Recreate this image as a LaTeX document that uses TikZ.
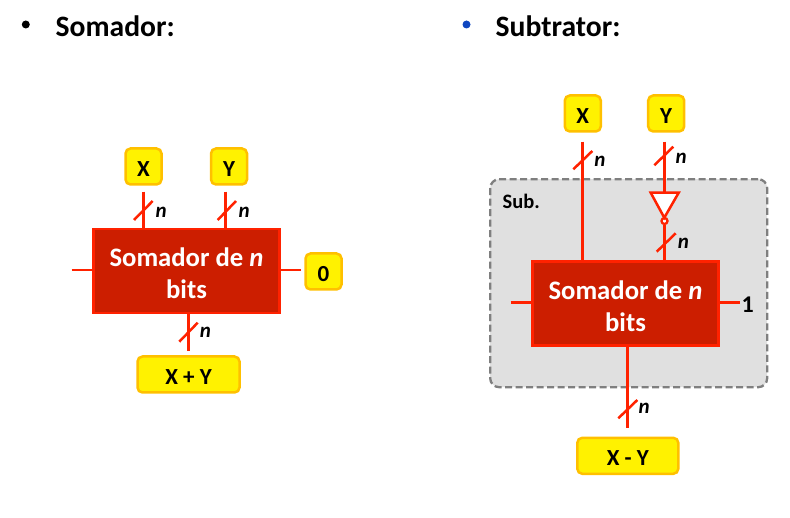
\documentclass[tikz,border=0pt]{standalone}
\usepackage{fontspec}
\setmainfont{Carlito}
\definecolor{wire}{HTML}{FF2200}
\definecolor{addfill}{HTML}{CC1E00}
\definecolor{ybord}{HTML}{FFC000}
\definecolor{subfill}{HTML}{E0E0E0}
\definecolor{subdash}{HTML}{7F7F7F}
\definecolor{bluebullet}{HTML}{0F46C0}
\newcommand{\topstrut}{\rule{0pt}{24pt}}
\tikzset{
  wirel/.style={draw=wire,line width=2.5pt},
  slashl/.style={draw=wire,line width=2.5pt},
  ybox/.style={draw=ybord,fill=yellow,line width=2.5pt,rounded corners=5pt,inner sep=0pt,
     text height=20pt,text depth=0pt,
     font=\fontsize{23}{26}\selectfont\bfseries,text=black},
  adder/.style={draw=wire,fill=addfill,line width=2.5pt,inner sep=0pt,align=center,text=white,
     font=\fontsize{26.7}{32}\selectfont\bfseries,minimum width=186pt,minimum height=84pt},
  nlab/.style={font=\fontsize{21}{24}\selectfont\bfseries\itshape,text=black,inner sep=0pt},
  heading/.style={font=\fontsize{29.6}{34}\selectfont\bfseries,text=black,inner sep=0pt,anchor=west},
  dotb/.style={circle,inner sep=0pt,minimum size=8pt}
}
\begin{document}
\begin{tikzpicture}[x=1pt,y=-1pt]
\useasboundingbox (0,0) rectangle (790,518);
% headings
\node[dotb,fill=black] (b1) at (25.8,24.5) {};
\node[heading] (h1) at (55.5,26.5) {Somador:};
\node[dotb,fill=bluebullet] (b2) at (466.5,24.5) {};
\node[heading] (h2) at (495.5,26.5) {Subtrator:};
% left adder
\node[ybox,minimum width=36pt,minimum height=36pt] (lx) at (143.5,166.5) {X};
\node[ybox,minimum width=36pt,minimum height=36pt] (ly) at (229,166.5) {Y};
\node[adder] (ladd) at (186.5,271) {\topstrut Somador de \textit{n}\\bits};
\node[ybox,minimum width=36pt,minimum height=36pt] (lz) at (323.5,271.5) {0};
\node[ybox,minimum width=102pt,minimum height=36pt] (lsum) at (188.5,374.5) {X + Y};
\coordinate (lxw) at (143.5,191.7);
\coordinate (lyw) at (225.7,191.7);
\coordinate (lin) at (71.7,270);
\coordinate (lout) at (300.7,270);
\coordinate (lsw) at (188.3,351);
\draw[wirel] (lxw) -- (lxw |- ladd.north);
\draw[wirel] (lyw) -- (lyw |- ladd.north);
\draw[wirel] (lin) -- (lin -| ladd.west);
\draw[wirel] (lout) -- (lout -| ladd.east);
\draw[wirel] (lsw) -- (lsw |- ladd.south);
\draw[slashl] (134,220) -- (152.7,201);
\draw[slashl] (217.7,220) -- (236,201);
\draw[slashl] (179.3,341.7) -- (197.7,322.7);
\node[nlab] (ln1) at (161.2,212.5) {n};
\node[nlab] (ln2) at (244.2,212.2) {n};
\node[nlab] (ln3) at (205.5,332.2) {n};
% right subtractor
\node[draw=subdash,fill=subfill,line width=2.3pt,dash pattern=on 7pt off 3.5pt,rounded corners=9pt,
  minimum width=277pt,minimum height=208pt,inner sep=0pt] (sub) at (628.7,283.2) {};
\node[font=\fontsize{20.5}{24}\selectfont\bfseries,text=black,inner sep=0pt,anchor=west] (sublab) at (502.5,201.5) {Sub.};
\node[ybox,minimum width=36pt,minimum height=36pt] (rx) at (582.8,113.5) {X};
\node[ybox,minimum width=36pt,minimum height=36pt] (ry) at (666.2,113.5) {Y};
\node[adder] (radd) at (625.5,303.3) {\topstrut Somador de \textit{n}\\bits};
\node[ybox,minimum width=101pt,minimum height=36pt] (rdiff) at (627.8,455.8) {X - Y};
\node[font=\fontsize{24}{28}\selectfont\bfseries,text=black,inner sep=0pt] (rone) at (747.8,305) {1};
\coordinate (rxw) at (582.7,141.7);
\coordinate (ryw) at (664.3,141.7);
\coordinate (rin) at (510.7,302.3);
\coordinate (rout) at (740,302.3);
\coordinate (rdw) at (627.7,427.7);
\coordinate (t1) at (650.7,192.7);
\coordinate (t2) at (678.7,192.7);
\coordinate (t3) at (664.3,217.7);
\coordinate (rtop) at (664.3,192.7);
\node[circle,draw=wire,fill=white,line width=2.3pt,minimum size=6pt,inner sep=0pt] (inv) at (664.5,221) {};
\draw[wirel,fill=white,line join=miter] (t1) -- (t2) -- (t3) -- cycle;
\draw[wirel] (rxw) -- (rxw |- radd.north);
\draw[wirel] (ryw) -- (rtop);
\draw[wirel] (inv.south) -- (inv.south |- radd.north);
\draw[wirel] (rin) -- (rin -| radd.west);
\draw[wirel] (rout) -- (rout -| radd.east);
\draw[wirel] (rdw) -- (rdw |- radd.south);
\draw[slashl] (573.3,169.3) -- (592.3,151);
\draw[slashl] (654.3,165.3) -- (673.3,146.7);
\draw[slashl] (656.7,251.7) -- (675.7,233.3);
\draw[slashl] (618.3,418.3) -- (637.3,400);
\node[nlab] (rn1) at (599.8,161.5) {n};
\node[nlab] (rn2) at (681.2,158.2) {n};
\node[nlab] (rn3) at (683.5,243.8) {n};
\node[nlab] (rn4) at (644.2,408.8) {n};
\end{tikzpicture}
\end{document}
